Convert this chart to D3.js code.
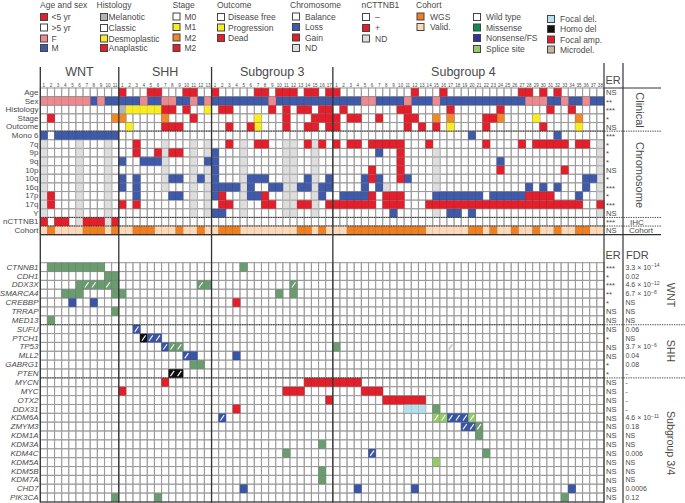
<!DOCTYPE html>
<html><head><meta charset="utf-8">
<script src="https://cdn.jsdelivr.net/npm/d3@7"></script>
<style>
html,body{margin:0;padding:0;background:#fff}
svg{display:block}
text{font-family:"Liberation Sans",Arial,sans-serif;fill:#4a4a4a}
</style></head><body><svg id="c" width="685" height="503"></svg>
<script>
// ---------- categories ----------
const groups = ["WNT","SHH","Subgroup 3","Subgroup 4"];
const groupSizes = [11,13,17,38];
const clinicalRows = ["Age","Sex","Histology","Stage","Outcome","Mono 6","7q","9p","9q","10p","10q","16q","17p","17q","Y","nCTTNB1","Cohort"];
const geneRows = ["CTNNB1","CDH1","DDX3X","SMARCA4","CREBBP","TRRAP","MED13","SUFU","PTCH1","TP53","MLL2","GABRG1","PTEN","MYCN","MYC","OTX2","DDX31","KDM6A","ZMYM3","KDM1A","KDM3A","KDM4C","KDM5A","KDM5B","KDM7A","CHD7","PIK3CA"];
const erClinical = ["NS","**","***","*","NS","***","*","*","*","NS","*","***","*","***","NS","***","NS"];
const erGenes = ["***","*","***","**","*","NS","NS","NS","*","NS","NS","*","*","NS","NS","NS","NS","NS","NS","NS","NS","NS","NS","NS","NS","NS","NS"];
const fdrGenes = [["3.3 × 10","−14"],["0.02"],["4.6 × 10","−12"],["6.7 × 10","−8"],["NS"],["NS"],["NS"],["0.06"],["NS"],["3.7 × 10","−6"],["0.04"],["0.08"],["-"],["-"],["-"],["-"],["-"],["4.6 × 10","−11"],["0.18"],["NS"],["NS"],["0.006"],["NS"],["NS"],["NS"],["0.0006"],["0.12"]];

// ---------- calls: [row, kind, WNT cols, SHH cols, Subgroup 3 cols, Subgroup 4 cols] ----------
const sexCalls = [
 ["Sex","male",[8,10,11],[1,2,3,5,6,9,10,12],[1,2,3,4,5,6,7,8,10,11,12,13,14,15,16,17],[1,2,3,4,7,8,9,10,12,13,14,16,17,18,19,20,21,22,23,24,25,26,27,31,32,34,35,37,38]],
 ["Sex","female",[1,2,3,4,5,6,7,9],[4,7,8,11,13],[9],[5,6,11,15,28,29,30,33,36]]
];
const clinicalCalls = [
 ["Age","young",[],[1,5,6,10,11],[1,7,8,10,11,12,14,15,17],[1,12,16,27,28,30,32]],
 ["Histology","melanotic",[],[1],[],[]],
 ["Histology","desmoplastic",[],[2,3,4,5,6,13],[],[]],
 ["Histology","anaplastic",[],[7,8,10],[2,3,9,11,13,14,16,17],[2,10,11,17,24,31,34]],
 ["Stage","m1",[],[],[7],[29]],
 ["Stage","m2",[11],[1,7],[],[15,17,24,35]],
 ["Stage","m3",[2],[11],[11,15,16,17],[1,3,4,7,11,12,22,23]],
 ["Outcome","progression",[],[2],[7],[17,35]],
 ["Outcome","dead",[],[7,8,9],[3,6,11,14,15,17],[1,11,13,15,22,30]]
];
const ndColumns = [
 ["7q",[1,6,10],[7,11,13],[5,11,12,15],[38]],
 ["9p",[1,6,10],[7,11,13],[5,11,12,15],[15,38]],
 ["9q",[1,6,10],[7,11],[5,11,12,15],[15,38]],
 ["10p",[1,6,10],[7,11,13],[5,11,12,15],[15,38]],
 ["10q",[1,6,10],[7,11,13],[5,11,12,15],[15,38]],
 ["16q",[1,6,10],[7,11,13],[5,11,12,15],[8,15,38]],
 ["17p",[1,6,10],[11,13],[5,11,12,15],[38]],
 ["17q",[1,6,10],[11,13],[5,11,12,15],[38]],
 ["Y",[1,6,10],[11,13],[5,11,12,15],[15,38]],
 ["nCTTNB1",[6,10],[],[],[]]
];
const lossCalls = [
 ["Mono 6",[1,3,4,5,6,7,8,9,10,11],[],[],[20,32]],
 ["9p",[],[],[1],[7]],
 ["9q",[],[1,4,5,6,13],[1],[24]],
 ["10p",[],[],[1],[]],
 ["10q",[],[1,3,8,9,12],[1,6,7,8,14,17],[5,7,11,36,37]],
 ["16q",[],[1,3],[1,2,3,4,6,9,10,13,14,16,17],[5,7,28,30,32,36]],
 ["17p",[],[3,8,9],[1,6,7,16],[2,3,4,5,15,16,17,18,19,20,21,23,24,25,26,27,35]],
 ["Y",[],[],[1,2],[9,17,18,20]]
];
const gainCalls = [
 ["7q",[],[3],[3,7,8,14,16],[1,3,4,6,7,8,9,10,14,22,27,29,30,31,32,33,35,36]],
 ["9p",[],[3,6,8,9],[],[10]],
 ["9q",[],[],[],[10]],
 ["10p",[],[],[],[6,10,24,33]],
 ["10q",[],[],[],[6,10]],
 ["17p",[2],[],[2,8],[6,8,9,10,28,29,30,31]],
 ["17q",[2],[1,3],[2,3,8,9,13,14,17],[1,2,3,4,5,6,8,9,10,14,15,16,17,18,19,20,21,22,23,24,25,26,27,28,29,30,31,32,33,34,35,38]]
];
const ihcPositive = [[1,3,4,7,8,9,11],[],[],[]];
const cohortWgs = [[2,7,8,9,11],[3,4,5,9,12],[2,3,4,13,14,16],[3,4,5,6,7,8,9,10,11,12,13,20,21,23,26,29,32,35,36]];
const geneCalls = [
 ["CTNNB1","missense",[2,3,4,5,6,7,8,9],[],[5],[]],
 ["CDH1","missense",[10,11],[],[],[]],
 ["DDX3X","missense",[6,9,11],[13],[],[]],
 ["DDX3X","missense/",[7,8,10],[12],[12],[]],
 ["SMARCA4","missense",[4,5,6,11],[1],[10,12],[]],
 ["CREBBP","nonsense",[5,8],[],[],[]],
 ["CREBBP","focalAmp",[],[],[4],[]],
 ["TRRAP","missense",[11],[],[],[]],
 ["MED13","missense",[2],[],[],[]],
 ["SUFU","nonsense/",[],[3],[],[]],
 ["PTCH1","homoDel/",[],[4],[],[]],
 ["PTCH1","nonsense/",[],[5,6],[],[]],
 ["TP53","nonsense/",[],[7],[],[]],
 ["TP53","missense/",[],[8,9],[],[]],
 ["TP53","missense",[],[],[],[1]],
 ["TP53","faint/",[],[],[],[17]],
 ["MLL2","nonsense/",[],[10],[],[]],
 ["MLL2","nonsense",[],[11],[4],[]],
 ["GABRG1","missense",[],[11,12],[],[]],
 ["PTEN","homoDel/",[],[8,9],[],[]],
 ["MYCN","focalAmp",[],[7],[14,15,16,17],[1,2,3,4]],
 ["MYC","focalAmp",[],[1],[11,12,13],[5,6,7]],
 ["OTX2","focalAmp",[],[],[17],[8,9,10,11,12,13]],
 ["DDX31","focalAmp",[],[],[4],[]],
 ["DDX31","focalDel",[],[],[],[11,12,13]],
 ["DDX31","missense",[],[],[],[15]],
 ["KDM6A","nonsense/",[],[],[2],[17,18,19]],
 ["KDM6A","splice/",[],[],[],[15,16,20]],
 ["ZMYM3","nonsense/",[],[],[],[19,20]],
 ["ZMYM3","missense/",[],[],[],[21]],
 ["KDM1A","missense",[],[],[],[21]],
 ["KDM3A","missense",[],[],[16],[]],
 ["KDM4C","missense",[],[],[11],[22]],
 ["KDM4C","nonsense/",[],[],[],[6]],
 ["KDM5A","splice",[],[],[],[15]],
 ["KDM5B","missense",[],[],[16],[]],
 ["KDM7A","missense",[],[],[16],[]],
 ["CHD7","nonsense",[],[],[5],[4,12,34]],
 ["PIK3CA","missense",[11],[6],[],[33]]
];

// ---------- legends ----------
const legendAgeSex = [["<5 yr","young"],[">5 yr","none"],["F","female"],["M","male"]];
const legendHistology = [["Melanotic","melanotic"],["Classic","none"],["Desmoplastic","desmoplastic"],["Anaplastic","anaplastic"]];
const legendStage = [["M0","none"],["M1","m1"],["M2","m2"],["M2","m3"]];
const legendOutcome = [["Disease free","none"],["Progression","progression"],["Dead","dead"]];
const legendChromosome = [["Balance","none"],["Loss","loss"],["Gain","gain"],["ND","nd"]];
const legendIhc = [["–","none"],["+","gain"],["ND","nd"]];
const legendCohort = [["WGS","wgs"],["Valid.","valid"]];
const legendMut = [["Wild type","none"],["Missense","missenseKey"],["Nonsense/FS","nonsenseKey"],["Splice site","splice"]];
const legendCopy = [["Focal del.","focalDel"],["Homo del","homoDel"],["Focal amp.","focalAmp"],["Microdel.","microdel"]];

// ---------- styling ----------
const fills = {none:"#fff",young:"#e2202c",male:"#3f5aa8",female:"#ec8a90",melanotic:"#b3b3b3",desmoplastic:"#f8ec24",anaplastic:"#e2202c",
 m1:"#f8ec24",m2:"#ee8a2a",m3:"#e2202c",progression:"#f8ec24",dead:"#e2202c",loss:"#3f5aa8",gain:"#e2202c",nd:"#dedede",
 wgs:"#ee7f22",valid:"#fcd9b8",missense:"#6b9c70",nonsense:"#3a55a6",missenseKey:"#0f8a50",nonsenseKey:"#2e3796",splice:"#97c96a",
 focalDel:"#b5e1ee",homoDel:"#111",focalAmp:"#e2202c",microdel:"#c3b79d",faint:"#fff"};

// ---------- scales ----------
const colKeys = groups.flatMap((g,i)=>d3.range(1,groupSizes[i]+1).map(c=>g+"|"+c));
const x = d3.scaleBand().domain(colKeys).range([40.3,604]).padding(0);
const yTop = d3.scaleBand().domain(clinicalRows).range([88,234.7]).padding(0);
const yGene = d3.scaleBand().domain(geneRows).range([262.7,502]).padding(0);
const svg = d3.select("#c");

function expand(row,kind,lists){
  return lists.flatMap((cols,i)=>cols.map(c=>({row,kind,col:groups[i]+"|"+c})));
}
const topMarks = [
 ...sexCalls.flatMap(r=>expand(r[0],r[1],r.slice(2))),
 ...clinicalCalls.flatMap(r=>expand(r[0],r[1],r.slice(2))),
 ...ndColumns.flatMap(r=>expand(r[0],"nd",r.slice(1))),
 ...lossCalls.flatMap(r=>expand(r[0],"loss",r.slice(1))),
 ...gainCalls.flatMap(r=>expand(r[0],"gain",r.slice(1))),
 ...expand("nCTTNB1","gain",ihcPositive),
 ...colKeys.map(col=>({row:"Cohort",kind:"valid",col})),
 ...expand("Cohort","wgs",cohortWgs)
];
const geneMarks = geneCalls.flatMap(r=>expand(r[0],r[1],r.slice(2)));

function grid(y,rows){
  const cells = rows.flatMap(row=>colKeys.map(col=>({row,col})));
  svg.append("g").selectAll("rect").data(cells).join("rect")
    .attr("x",d=>x(d.col)).attr("y",d=>y(d.row))
    .attr("width",x.bandwidth()).attr("height",y.bandwidth())
    .attr("fill","#fff").attr("stroke","#9b9b9b").attr("stroke-width",1.1);
}
function marks(y,data){
  const g = svg.append("g");
  g.selectAll("rect").data(data.filter(d=>d.kind!=="faint/")).join("rect")
    .attr("x",d=>x(d.col)-0.2).attr("y",d=>y(d.row)+0.2)
    .attr("width",x.bandwidth()+0.4).attr("height",y.bandwidth()-0.4)
    .attr("fill",d=>fills[d.kind.replace("/","")])
    .attr("stroke",d=>d.kind==="nd"?"#b2b2b2":"#000")
    .attr("stroke-opacity",d=>d.kind==="nd"?1:0.12)
    .attr("stroke-width",d=>d.kind==="nd"?1:0.6);
  g.selectAll("line").data(data.filter(d=>d.kind.endsWith("/"))).join("line")
    .attr("x1",d=>x(d.col)+x.bandwidth()*0.24).attr("x2",d=>x(d.col)+x.bandwidth()*0.76)
    .attr("y1",d=>y(d.row)+y.bandwidth()*0.8).attr("y2",d=>y(d.row)+y.bandwidth()*0.2)
    .attr("stroke",d=>d.kind==="faint/"?"#cfcfcf":"#fff").attr("stroke-width",d=>d.kind==="faint/"?2:1.1);
}
grid(yTop,clinicalRows); marks(yTop,topMarks);
grid(yGene,geneRows); marks(yGene,geneMarks);

// row labels via axes
function rowAxis(y,italic){
  const g = svg.append("g").attr("transform","translate(38.5,0)").call(d3.axisLeft(y).tickSize(0).tickPadding(0));
  g.select(".domain").remove();
  g.selectAll("text").style("font-family",'"Liberation Sans",Arial,sans-serif').style("font-size","8px")
    .style("font-style",italic?"italic":"normal").attr("fill","#4a4a4a");
}
rowAxis(yTop,false); rowAxis(yGene,true);

// column numbers
const axTop = svg.append("g").attr("transform","translate(0,87)")
  .call(d3.axisTop(x).tickSize(0).tickPadding(0).tickFormat(d=>d.split("|")[1]));
axTop.select(".domain").remove();
axTop.selectAll("text").style("font-family",'"Liberation Sans",Arial,sans-serif').style("font-size","4.6px").attr("fill","#666");

// group titles & dividers
const boundaries = groups.map((g,i)=>x(g+"|1"));
svg.append("g").selectAll("line").data(boundaries).join("line")
  .attr("x1",d=>d).attr("x2",d=>d).attr("y1",67).attr("y2",502.5)
  .attr("stroke","#333").attr("stroke-width",1.3);
svg.append("g").selectAll("text").data(groups).join("text")
  .attr("x",(g,i)=>(x(g+"|1")+x(g+"|"+groupSizes[i])+x.bandwidth())/2)
  .attr("y",76).attr("text-anchor","middle").attr("font-size",12.5)
  .attr("dx",(g,i)=>i==3?-5:0)
  .text(d=>d);

// right-hand frame
const xEr = x.range()[1], xFdr = 623;
[xEr,xFdr].forEach(v=>svg.append("line").attr("x1",v).attr("x2",v).attr("y1",63).attr("y2",503).attr("stroke","#444").attr("stroke-width",1.3));
svg.append("line").attr("x1",xEr).attr("x2",661).attr("y1",yTop.range()[0]).attr("y2",yTop.range()[0]).attr("stroke","#333").attr("stroke-width",1);
svg.append("line").attr("x1",x.range()[0]).attr("x2",661).attr("y1",yTop.range()[1]).attr("y2",yTop.range()[1]).attr("stroke","#333").attr("stroke-width",1.3);
svg.append("line").attr("x1",x.range()[0]).attr("x2",xEr).attr("y1",yGene.range()[1]).attr("y2",yGene.range()[1]).attr("stroke","#333").attr("stroke-width",1.2);

// dotted separators
const dotted = [[yTop("Mono 6"),662],[yTop("nCTTNB1"),662],[yTop("Cohort"),662],[yGene("SUFU"),685],[yGene("MYCN"),685]];
svg.append("g").selectAll("line").data(dotted).join("line")
  .attr("x1",x.range()[0]).attr("x2",d=>d[1]).attr("y1",d=>d[0]).attr("y2",d=>d[0])
  .attr("stroke","#222").attr("stroke-width",0.8).attr("stroke-dasharray","1.4,1");

// ER and FDR columns
function erCol(y,rows,vals){
  svg.append("g").selectAll("text").data(rows).join("text")
    .attr("x",xEr+2).attr("y",d=>y(d)+y.bandwidth()/2+(vals[rows.indexOf(d)]==="NS"?2.8:3.6))
    .attr("font-size",7.6).text((d,i)=>vals[i]);
}
erCol(yTop,clinicalRows,erClinical); erCol(yGene,geneRows,erGenes);
const fdr = svg.append("g").selectAll("text").data(geneRows).join("text")
  .attr("x",xFdr+2.5).attr("y",d=>yGene(d)+yGene.bandwidth()/2+2.6).attr("font-size",7);
fdr.append("tspan").text((d,i)=>fdrGenes[i][0]);
fdr.append("tspan").attr("dy",-2.5).attr("font-size",5).text((d,i)=>fdrGenes[i][1]||"");

svg.append("text").attr("x",xEr+1.5).attr("y",84).attr("font-size",11).text("ER");
svg.append("text").attr("x",xEr+1.5).attr("y",259).attr("font-size",11).text("ER");
svg.append("text").attr("x",xFdr+3).attr("y",259).attr("font-size",11).text("FDR");

function vLabel(t,xp,yp,fs){
  svg.append("text").attr("transform",`translate(${xp},${yp}) rotate(90)`).attr("text-anchor","middle").attr("font-size",fs).text(t);
}
vLabel("Clinical",636,110,11);
vLabel("Chromosome",636,175,11);
vLabel("WNT",667,295,10.7);
vLabel("SHH",667,351,10.7);
vLabel("Subgroup 3/4",667,443,10.7);
svg.append("text").attr("x",637).attr("y",225).attr("text-anchor","middle").attr("font-size",8).text("IHC");
svg.append("text").attr("x",641).attr("y",233.3).attr("text-anchor","middle").attr("font-size",8).text("Cohort");

// legends
function legend(title,items,xs,xt,rowsY,titleX){
  const g = svg.append("g");
  if(title) g.append("text").attr("x",titleX??xs).attr("y",7.5).attr("font-size",8.5).text(title);
  const it = g.selectAll("g").data(items).join("g");
  it.append("rect").attr("x",xs).attr("y",(d,i)=>rowsY[i]-3.5).attr("width",7).attr("height",7)
    .attr("fill",d=>fills[d[1]]).attr("stroke","#444").attr("stroke-width",1);
  it.append("text").attr("x",xt).attr("y",(d,i)=>rowsY[i]+3).attr("font-size",8.5).text(d=>d[0]);
}
const ly = [17,27.5,38.5,48];
legend("Age and sex",legendAgeSex,40.5,51.5,ly,40);
legend("Histology",legendHistology,100.5,108.5,[17,28,38.5,48],96.5);
legend("Stage",legendStage,173,184.5,[16.5,27,37.5,48],172.5);
legend("Outcome",legendOutcome,217.5,228,[17,27.5,38],217);
legend("Chromosome",legendChromosome,292.5,305,[16.5,27,37.5,48],290);
legend("nCTTNB1",legendIhc,362.5,375,[17,28,38.5],361.5);
legend("Cohort",legendCohort,417,430,[16.5,27],416);
legend(null,legendMut,473.5,486,[17,27.5,38,49]);
legend(null,legendCopy,547.5,560,[19,29,39.5,49.5]);
</script></body></html>
